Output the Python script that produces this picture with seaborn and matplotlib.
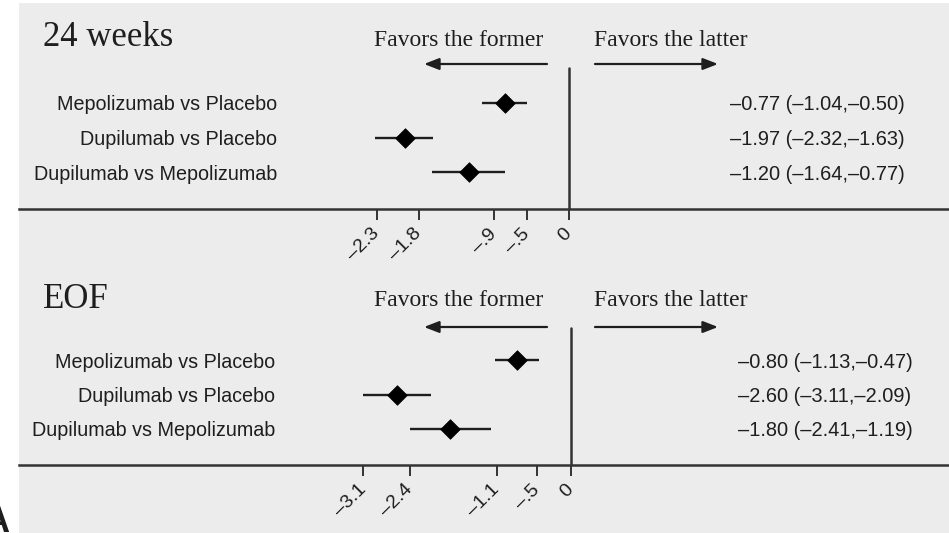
import pandas as pd
import matplotlib.pyplot as plt
import seaborn as sns

# Data
comparisons = ['Mepolizumab vs Placebo', 'Dupilumab vs Placebo', 'Dupilumab vs Mepolizumab']

est_24w = [-0.77, -1.97, -1.20]
lo_24w = [-1.04, -2.32, -1.64]
hi_24w = [-0.50, -1.63, -0.77]
ticks_24w = [-2.3, -1.8, -0.9, -0.5, 0]
ticklabels_24w = ['\u20132.3', '\u20131.8', '\u2013.9', '\u2013.5', '0']

est_eof = [-0.80, -2.60, -1.80]
lo_eof = [-1.13, -3.11, -2.41]
hi_eof = [-0.47, -2.09, -1.19]
ticks_eof = [-3.1, -2.4, -1.1, -0.5, 0]
ticklabels_eof = ['\u20133.1', '\u20132.4', '\u20131.1', '\u2013.5', '0']

sns.set_style("white")
plt.rcParams['font.family'] = ['Liberation Sans', 'DejaVu Sans']

W, H = 949, 533
BG = '#ececec'
INK = '#1e1e1e'
fig = plt.figure(figsize=(W / 100, H / 100), dpi=100)
fig.patch.set_facecolor('white')


def fx(x):
    return x / W


def fy(y):
    return 1 - y / H


# gray page background
fig.patches.append(plt.Rectangle((fx(19), 0), 1 - fx(19), fy(3), transform=fig.transFigure,
                                 facecolor=BG, edgecolor='none', zorder=-10))
fig.text(fx(-17), fy(540), 'A', fontsize=26, fontweight='bold', color=INK, ha='left', va='bottom')


def panel(title, est, lo, hi, ticks, ticklabels, top, bottom, rows_y, zero_px, scale,
          label_right, value_left, header_y, arrow_y, zero_top):
    ax = fig.add_axes([fx(19), fy(bottom), 1 - fx(19), fy(top) - fy(bottom)])
    ax.set_facecolor('none')
    spacing = rows_y[1] - rows_y[0]
    ax.set_ylim(2 + (bottom - rows_y[2]) / spacing, -(rows_y[0] - top) / spacing)
    ax.set_xlim((19 - zero_px) / scale, (W - zero_px) / scale)

    df = pd.DataFrame({'comparison': comparisons, 'est': est, 'lo': lo, 'hi': hi,
                       'row': range(len(comparisons))})
    ax.hlines(df['row'], df['lo'], df['hi'], color=INK, lw=1.7, zorder=2)
    sns.scatterplot(data=df, x='est', y='row', marker='D', s=100, color='black',
                    edgecolor='black', linewidth=0.5, ax=ax, zorder=3, legend=False)

    for i, row in df.iterrows():
        ax.text(fx(label_right - 19) / (1 - fx(19)), row['row'], row['comparison'],
                transform=ax.get_yaxis_transform(), ha='right', va='center_baseline',
                fontsize=14.2, color=INK)
        ax.text(fx(value_left - 19) / (1 - fx(19)), row['row'],
                f"{row['est']:.2f} ({row['lo']:.2f},{row['hi']:.2f})".replace('-', '\u2013'),
                transform=ax.get_yaxis_transform(), ha='left', va='center_baseline',
                fontsize=14.4, color=INK)

    ax.axvline(0, ymin=0, ymax=(bottom - zero_top) / (bottom - top), color='#333333', lw=1.8)

    ax.set_xticks(ticks)
    ax.set_xticklabels(ticklabels, rotation=45, ha='right', va='center', rotation_mode='anchor')
    ax.tick_params(axis='x', direction='out', length=8, width=1.4, color='#333333',
                   labelsize=14, labelcolor=INK, pad=8, bottom=True)
    ax.set_yticks([])
    ax.set_xlabel('')
    ax.set_ylabel('')
    for s in ['top', 'left', 'right']:
        ax.spines[s].set_visible(False)
    ax.spines['bottom'].set_color('#333333')
    ax.spines['bottom'].set_linewidth(1.8)

    # header texts and arrows
    fig.text(fx(43), fy(header_y - 2), title, fontsize=25, family=['Liberation Serif'],
             color=INK, ha='left', va='center')
    fig.text(fx(459), fy(header_y), 'Favors the former', fontsize=17,
             family=['Liberation Serif'], color=INK, ha='center', va='center')
    fig.text(fx(671), fy(header_y), 'Favors the latter', fontsize=17,
             family=['Liberation Serif'], color=INK, ha='center', va='center')
    arrow = dict(arrowstyle='-|>,head_length=0.9,head_width=0.35', color=INK, lw=1.6,
                 shrinkA=0, shrinkB=0)
    ax.annotate('', xy=(fx(424), fy(arrow_y)), xytext=(fx(547), fy(arrow_y)),
                xycoords='figure fraction', arrowprops=arrow)
    ax.annotate('', xy=(fx(718), fy(arrow_y)), xytext=(fx(595), fy(arrow_y)),
                xycoords='figure fraction', arrowprops=arrow)
    return ax


panel('24 weeks', est_24w, lo_24w, hi_24w, ticks_24w, ticklabels_24w,
      top=3, bottom=209, rows_y=[103, 137.5, 172], zero_px=569, scale=83.5,
      label_right=277, value_left=730, header_y=40, arrow_y=64, zero_top=68)
panel('EOF', est_eof, lo_eof, hi_eof, ticks_eof, ticklabels_eof,
      top=262, bottom=465, rows_y=[360, 394.5, 429], zero_px=570.5, scale=66.8,
      label_right=275, value_left=738, header_y=301, arrow_y=327, zero_top=328)

plt.savefig('out.png', dpi=100, facecolor=fig.get_facecolor())
